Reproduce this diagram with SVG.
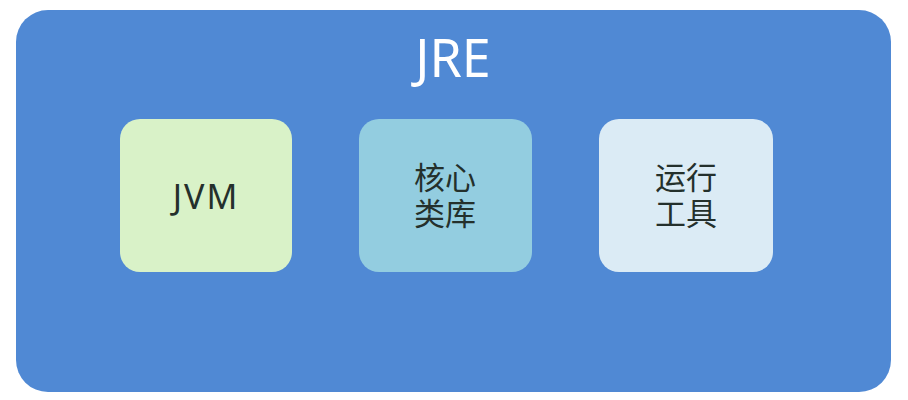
<svg xmlns="http://www.w3.org/2000/svg" width="908" height="400" viewBox="0 0 908 400">
<style>
.lbl{font-family:"Noto Sans","Noto Sans CJK SC",sans-serif;fill:#24302c;text-anchor:middle;font-size:31px}
.lat{letter-spacing:2px;font-size:34px}
.title{font-family:"Noto Sans","Noto Sans CJK SC",sans-serif;fill:#ffffff;text-anchor:middle;font-size:52px}
</style>
<rect width="908" height="400" fill="#ffffff"/>
<g id="jre">
<rect x="16" y="10" width="875" height="382" rx="32" fill="#5089d4"/>
<text class="title" x="453" y="77">JRE</text>
</g>
<g id="jvm">
<rect x="120" y="119" width="172" height="153" rx="20" fill="#d9f2c8"/>
<text class="lbl lat" x="206" y="209">JVM</text>
</g>
<g id="corelib">
<rect x="359" y="119" width="173" height="153" rx="20" fill="#93cde0"/>
<text class="lbl" x="445" y="189">核心</text>
<text class="lbl" x="445" y="225">类库</text>
</g>
<g id="tools">
<rect x="599" y="119" width="174" height="153" rx="20" fill="#dbebf5"/>
<text class="lbl" x="686" y="189">运行</text>
<text class="lbl" x="686" y="225">工具</text>
</g>
<g id="connectors"></g>
</svg>
